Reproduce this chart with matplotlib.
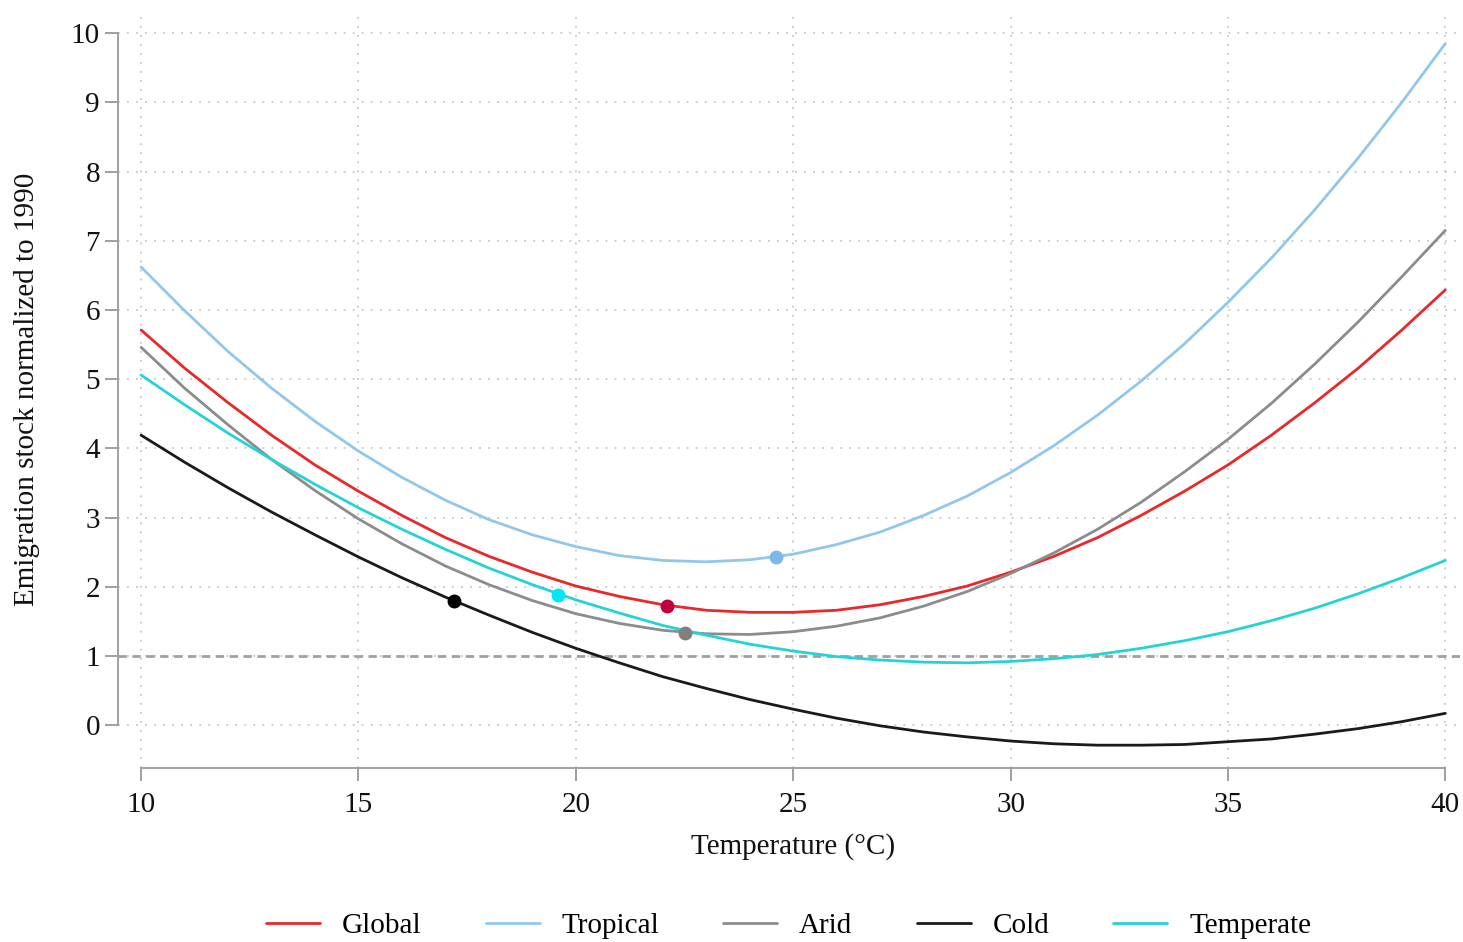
import matplotlib as mpl
import matplotlib.pyplot as plt
import numpy as np

plt.rcParams['font.family'] = ['Liberation Serif', 'DejaVu Serif']

# temperature grid (°C), one point per degree
temperature = list(range(10, 41))

# emigration stock normalized to 1990
global_y = [5.71, 5.16, 4.66, 4.19, 3.76, 3.38, 3.03, 2.71, 2.44, 2.21, 2.01,
            1.86, 1.74, 1.66, 1.63, 1.63, 1.66, 1.74, 1.86, 2.01, 2.21,
            2.44, 2.71, 3.03, 3.38, 3.76, 4.19, 4.66, 5.16, 5.71, 6.29]
tropical_y = [6.62, 5.99, 5.40, 4.87, 4.39, 3.96, 3.58, 3.25, 2.97, 2.75, 2.58,
              2.45, 2.38, 2.36, 2.39, 2.47, 2.61, 2.79, 3.03, 3.31, 3.65,
              4.04, 4.48, 4.97, 5.51, 6.11, 6.75, 7.45, 8.20, 9.00, 9.85]
arid_y = [5.46, 4.87, 4.34, 3.84, 3.39, 2.98, 2.62, 2.30, 2.03, 1.80, 1.61,
          1.47, 1.37, 1.32, 1.31, 1.35, 1.43, 1.55, 1.72, 1.93, 2.19,
          2.49, 2.83, 3.22, 3.66, 4.13, 4.65, 5.22, 5.83, 6.48, 7.15]
cold_y = [4.19, 3.80, 3.43, 3.08, 2.75, 2.43, 2.13, 1.85, 1.59, 1.34, 1.11,
          0.90, 0.70, 0.53, 0.37, 0.23, 0.10, -0.01, -0.10, -0.17, -0.23,
          -0.27, -0.29, -0.29, -0.28, -0.24, -0.20, -0.13, -0.05, 0.05, 0.17]
temperate_y = [5.06, 4.63, 4.22, 3.84, 3.48, 3.14, 2.83, 2.54, 2.27, 2.03, 1.81,
               1.62, 1.44, 1.30, 1.17, 1.07, 0.99, 0.94, 0.91, 0.90, 0.92,
               0.96, 1.02, 1.11, 1.22, 1.35, 1.51, 1.69, 1.90, 2.13, 2.38]

# average temperature markers (x, y) per group
marker_x = [22.1, 24.6, 22.5, 17.2, 19.6]
marker_y = [1.72, 2.43, 1.33, 1.79, 1.88]

labels = ['Global', 'Tropical', 'Arid', 'Cold', 'Temperate']
line_colors = ['#E8282B', '#92C7EC', '#8C8C8C', '#1A1A1A', '#25D3D6']
dot_colors = ['#C0003A', '#7FB8E8', '#808080', '#000000', '#00E8F0']

ref_level = 1
x_ticks = list(range(10, 41, 5))
y_ticks = list(range(0, 11))

axis_grey = '#A0A0A0'
fs = 21

fig = plt.figure(figsize=(14.63, 9.42), dpi=100)
ax = fig.add_axes([0.0807, 0.1847, 0.9173, 0.8043])

series = [global_y, tropical_y, arid_y, cold_y, temperate_y]
for ys, lab, lc, dc, mx, my in zip(series, labels, line_colors, dot_colors, marker_x, marker_y):
    ax.plot(temperature, ys, color=lc, lw=2.0, label=lab, zorder=3,
            solid_capstyle='round', solid_joinstyle='round')
    ax.plot(mx, my, 'o', color=dc, markersize=9, zorder=4)

ax.axhline(ref_level, color='#A0A0A0', lw=2.0, ls=(0, (3, 2)), zorder=2)

ax.set_xlim(9.47, 40.34)
ax.set_ylim(-0.62, 10.33)
ax.set_xticks(x_ticks)
ax.set_yticks(y_ticks)

# dotted grid
ax.grid(True, color='#C8C8C8', lw=1.3, ls=(0, (1, 4)), zorder=0)

# stata-like axes: only left and bottom, trimmed to data range
for s in ['top', 'right']:
    ax.spines[s].set_visible(False)
for s in ['left', 'bottom']:
    ax.spines[s].set_color(axis_grey)
    ax.spines[s].set_linewidth(1.4)
ax.spines['left'].set_bounds(0, 10)
ax.spines['bottom'].set_bounds(10, 40)
ax.tick_params(axis='both', direction='out', length=9.5, width=1.4, color=axis_grey,
               labelsize=fs, labelcolor='#111111')
ax.tick_params(axis='y', pad=3.5)
ax.tick_params(axis='x', pad=8)

ax.set_xlabel('Temperature (°C)', fontsize=fs, color='#111111')
ax.set_ylabel('Emigration stock normalized to 1990', fontsize=fs, color='#111111')
ax.xaxis.set_label_coords(0.503, -0.086)
ax.yaxis.set_label_coords(-0.058, 0.5)

fig.legend(loc='center', bbox_to_anchor=(0.539, 0.017), ncol=5, frameon=False,
           fontsize=fs, handlelength=1.85, handletextpad=0.75, columnspacing=2.2)

fig.savefig('out.png', dpi=100)
